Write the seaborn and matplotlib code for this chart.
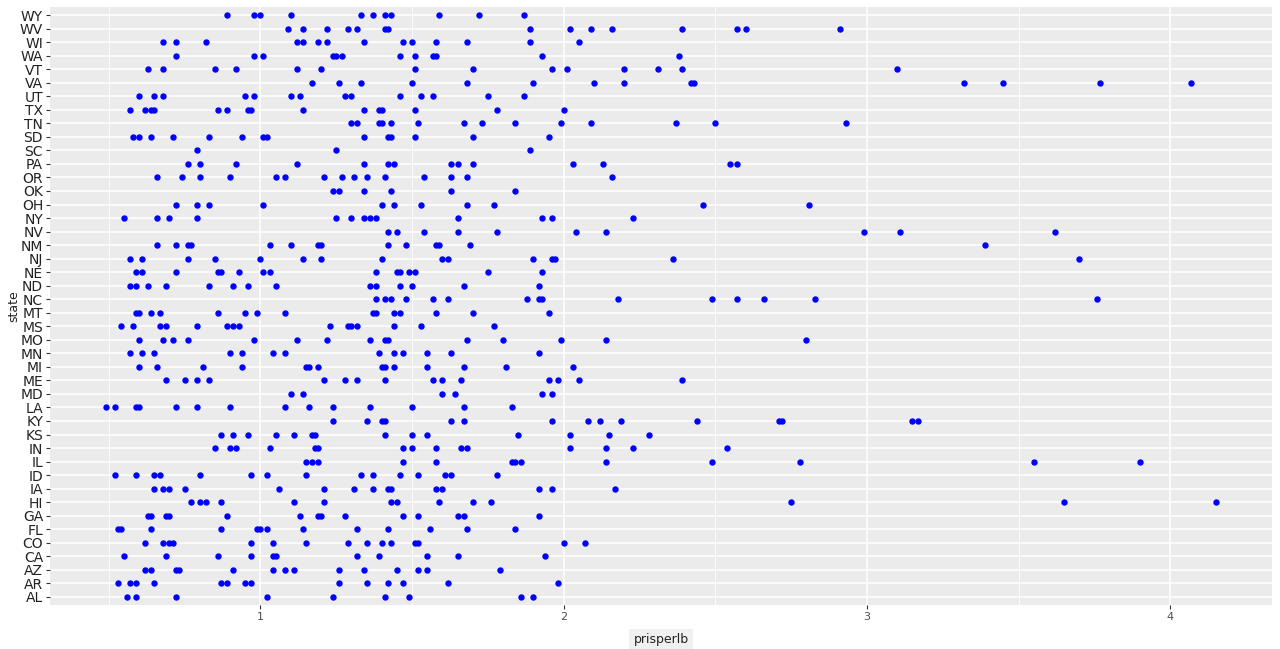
import pandas as pd
import matplotlib.pyplot as plt
import seaborn as sns

# prix par livre, une liste par état
al = [0.56, 0.59, 0.72, 1.02, 1.24, 1.41, 1.49, 1.86, 1.90]
ar = [0.53, 0.57, 0.59, 0.65, 0.87, 0.89, 0.95, 0.97, 1.26, 1.35, 1.42, 1.47, 1.62, 1.98]
az = [0.62, 0.64, 0.72, 0.73, 0.91, 1.04, 1.08, 1.11, 1.26, 1.34, 1.45, 1.52, 1.55, 1.79]
ca = [0.55, 0.69, 0.86, 0.97, 1.04, 1.05, 1.32, 1.39, 1.55, 1.65, 1.94]
co = [0.62, 0.68, 0.70, 0.71, 0.97, 1.04, 1.15, 1.29, 1.35, 1.40, 1.43, 1.51, 1.52, 2.00, 2.07]
fl = [0.53, 0.54, 0.64, 0.87, 0.99, 1.00, 1.02, 1.14, 1.32, 1.42, 1.56, 1.68, 1.84]
ga = [0.63, 0.64, 0.69, 0.70, 0.89, 1.13, 1.19, 1.20, 1.28, 1.47, 1.52, 1.65, 1.67, 1.92]
hi = [0.77, 0.80, 0.82, 0.87, 1.11, 1.21, 1.43, 1.45, 1.59, 1.70, 1.76, 2.75, 3.65, 4.15]
ia = [0.65, 0.68, 0.70, 0.75, 1.06, 1.21, 1.31, 1.37, 1.42, 1.43, 1.58, 1.60, 1.92, 1.96, 2.17]
id_ = [0.52, 0.59, 0.65, 0.67, 0.80, 0.97, 1.02, 1.15, 1.33, 1.37, 1.46, 1.52, 1.61, 1.63, 1.78]
il = [1.15, 1.17, 1.19, 1.47, 1.58, 1.83, 1.84, 1.86, 2.14, 2.49, 2.78, 3.55, 3.90]
in_ = [0.85, 0.90, 0.92, 1.03, 1.18, 1.19, 1.47, 1.50, 1.58, 1.66, 1.68, 2.02, 2.14, 2.23, 2.54]
ks = [0.87, 0.91, 0.96, 1.05, 1.11, 1.17, 1.18, 1.41, 1.50, 1.55, 1.85, 2.02, 2.15, 2.28]
ky = [1.24, 1.35, 1.40, 1.41, 1.63, 1.67, 1.96, 2.08, 2.12, 2.19, 2.44, 2.71, 2.72, 3.15, 3.17]
la = [0.49, 0.52, 0.59, 0.60, 0.72, 0.79, 0.90, 1.08, 1.16, 1.24, 1.36, 1.50, 1.67, 1.83]
md = [1.10, 1.14, 1.60, 1.64, 1.93, 1.96]
me = [0.69, 0.75, 0.79, 0.83, 1.21, 1.28, 1.32, 1.41, 1.57, 1.60, 1.66, 1.95, 1.98, 2.05, 2.39]
mi = [0.60, 0.66, 0.81, 0.94, 1.15, 1.16, 1.19, 1.40, 1.41, 1.44, 1.55, 1.67, 1.81, 2.03]
mn = [0.57, 0.61, 0.65, 0.90, 0.94, 1.04, 1.08, 1.39, 1.44, 1.47, 1.55, 1.63, 1.92]
mo = [0.60, 0.68, 0.71, 0.76, 0.98, 1.12, 1.22, 1.36, 1.41, 1.42, 1.68, 1.80, 1.99, 2.14, 2.80]
ms = [0.54, 0.58, 0.67, 0.69, 0.79, 0.89, 0.91, 0.93, 1.23, 1.29, 1.30, 1.32, 1.44, 1.53, 1.77]
mt = [0.59, 0.60, 0.64, 0.67, 0.86, 0.95, 0.99, 1.08, 1.37, 1.38, 1.44, 1.46, 1.58, 1.70, 1.95]
nc = [1.38, 1.41, 1.43, 1.48, 1.57, 1.62, 1.88, 1.92, 1.93, 2.18, 2.49, 2.57, 2.66, 2.83, 3.76]
nd = [0.57, 0.59, 0.63, 0.69, 0.83, 0.91, 0.96, 1.05, 1.36, 1.38, 1.46, 1.50, 1.67, 1.92]
ne = [0.59, 0.61, 0.72, 0.86, 0.87, 0.93, 1.01, 1.03, 1.38, 1.45, 1.46, 1.49, 1.51, 1.75, 1.93]
nj = [0.57, 0.61, 0.76, 0.85, 1.00, 1.14, 1.20, 1.40, 1.60, 1.62, 1.90, 1.96, 1.97, 2.36, 3.70]
nm = [0.66, 0.72, 0.76, 0.77, 1.03, 1.10, 1.19, 1.20, 1.42, 1.48, 1.58, 1.59, 1.69, 3.39]
nv = [1.42, 1.45, 1.54, 1.65, 1.78, 2.04, 2.14, 2.99, 3.11, 3.62]
ny = [0.55, 0.66, 0.70, 0.79, 1.25, 1.30, 1.34, 1.36, 1.38, 1.65, 1.93, 1.96, 2.23]
oh = [0.72, 0.79, 0.83, 1.01, 1.40, 1.44, 1.53, 1.68, 1.77, 2.46, 2.81]
ok = [1.24, 1.26, 1.34, 1.43, 1.63, 1.84]
or_ = [0.66, 0.74, 0.80, 0.90, 1.05, 1.08, 1.21, 1.27, 1.31, 1.35, 1.41, 1.54, 1.63, 1.68, 2.16]
pa = [0.76, 0.80, 0.92, 1.12, 1.34, 1.42, 1.44, 1.63, 1.65, 1.70, 2.03, 2.13, 2.55, 2.57]
sc = [0.79, 1.25, 1.89]
sd = [0.58, 0.60, 0.64, 0.71, 0.83, 0.94, 1.01, 1.02, 1.34, 1.42, 1.43, 1.51, 1.70, 1.95]
tn = [1.30, 1.32, 1.39, 1.40, 1.43, 1.52, 1.67, 1.73, 1.84, 1.99, 2.09, 2.37, 2.50, 2.93]
tx = [0.57, 0.62, 0.64, 0.65, 0.86, 0.89, 0.96, 0.97, 1.14, 1.34, 1.39, 1.40, 1.51, 1.78, 2.00]
ut = [0.60, 0.65, 0.68, 0.95, 0.98, 1.10, 1.13, 1.28, 1.30, 1.46, 1.53, 1.57, 1.75, 1.87]
va = [1.17, 1.26, 1.33, 1.50, 1.68, 1.90, 2.10, 2.20, 2.42, 2.43, 3.32, 3.45, 3.77, 4.07]
vt = [0.63, 0.68, 0.85, 0.92, 1.12, 1.20, 1.51, 1.70, 1.96, 2.01, 2.20, 2.31, 2.39, 3.10]
wa = [0.72, 0.98, 1.01, 1.24, 1.25, 1.27, 1.46, 1.51, 1.57, 1.58, 1.93, 2.38]
wi = [0.68, 0.72, 0.82, 1.12, 1.14, 1.19, 1.22, 1.34, 1.47, 1.50, 1.58, 1.68, 1.89, 2.05]
wv = [1.09, 1.14, 1.22, 1.29, 1.32, 1.41, 1.42, 1.89, 2.02, 2.09, 2.16, 2.39, 2.57, 2.60, 2.91]
wy = [0.89, 0.98, 1.00, 1.10, 1.33, 1.37, 1.41, 1.43, 1.59, 1.72, 1.87]

states = ["AL", "AR", "AZ", "CA", "CO", "FL", "GA", "HI", "IA", "ID", "IL", "IN",
          "KS", "KY", "LA", "MD", "ME", "MI", "MN", "MO", "MS", "MT", "NC", "ND",
          "NE", "NJ", "NM", "NV", "NY", "OH", "OK", "OR", "PA", "SC", "SD", "TN",
          "TX", "UT", "VA", "VT", "WA", "WI", "WV", "WY"]
values = [al, ar, az, ca, co, fl, ga, hi, ia, id_, il, in_, ks, ky, la, md, me,
          mi, mn, mo, ms, mt, nc, nd, ne, nj, nm, nv, ny, oh, ok, or_, pa, sc,
          sd, tn, tx, ut, va, vt, wa, wi, wv, wy]

rows = []
for s, vals in zip(states, values):
    for v in vals:
        rows.append({"state": s, "priceperlb": v})
df = pd.DataFrame(rows)

sns.set_theme(style="darkgrid", rc={"axes.facecolor": "#EBEBEB",
                                    "grid.color": "white"})

fig = plt.figure(figsize=(12.8, 6.49), dpi=100)
ax = fig.add_axes([50 / 1280, 1 - 605 / 649, 1222 / 1280, 598 / 649])

# WY en haut, AL en bas
sns.stripplot(data=df, x="priceperlb", y="state", order=states[::-1],
              jitter=False, color="blue", size=4.6, linewidth=0, ax=ax)

ax.set_xlim(0.306, 4.336)
ax.set_ylim(len(states) - 0.4, -0.6)
ax.set_xticks([1, 2, 3, 4])
ax.set_xticks([0.5, 1.5, 2.5, 3.5], minor=True)
ax.grid(which="major", color="white", linewidth=1.1)
ax.grid(which="minor", axis="x", color="white", linewidth=0.6)
for sp in ax.spines.values():
    sp.set_visible(False)

ax.tick_params(axis="both", which="major", bottom=True, left=True, length=3,
               width=0.8, color="#333333", pad=2)
ax.tick_params(axis="y", labelsize=10, labelcolor="#222222")
ax.tick_params(axis="x", labelsize=8, labelcolor="#4D4D4D")
ax.tick_params(which="minor", bottom=False, left=False)

ax.set_xlabel("prisperlb", fontsize=9, color="#222222", labelpad=8,
              bbox=dict(facecolor="#F0F0F0", edgecolor="none", pad=3))
ax.set_ylabel("state", fontsize=9, color="#222222", labelpad=0)

fig.savefig("out.png", dpi=100)
